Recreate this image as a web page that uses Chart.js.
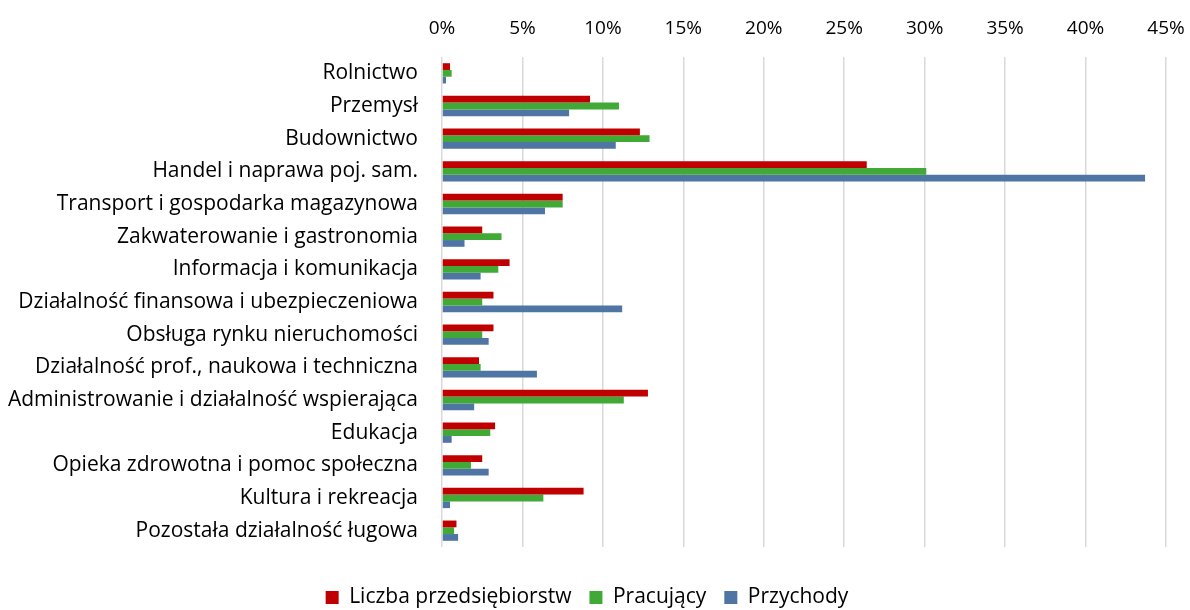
<!DOCTYPE html>
<html><head><meta charset="utf-8">
<script src="https://cdn.jsdelivr.net/npm/chart.js@4"></script>
<style>html,body{margin:0;padding:0;background:#fff}#w{width:1190px;height:610px}</style>
</head><body><div id="w"><canvas id="c"></canvas></div>
<script>
const categories = ["Rolnictwo","Przemysł","Budownictwo","Handel i naprawa poj. sam.","Transport i gospodarka magazynowa","Zakwaterowanie i gastronomia","Informacja i komunikacja","Działalność finansowa i ubezpieczeniowa","Obsługa rynku nieruchomości","Działalność prof., naukowa i techniczna","Administrowanie i działalność wspierająca","Edukacja","Opieka zdrowotna i pomoc społeczna","Kultura i rekreacja","Pozostała działalność ługowa"];
const seriesNames = ["Liczba przedsiębiorstw","Pracujący","Przychody"];
const liczba = [0.5,9.2,12.3,26.4,7.5,2.5,4.2,3.2,3.2,2.3,12.8,3.3,2.5,8.8,0.9];
const pracujacy = [0.6,11.0,12.9,30.1,7.5,3.7,3.5,2.5,2.5,2.4,11.3,3.0,1.8,6.3,0.75];
const przychody = [0.25,7.9,10.8,43.7,6.4,1.4,2.4,11.2,2.9,5.9,2.0,0.6,2.9,0.5,1.0];
const tickValues = [0,5,10,15,20,25,30,35,40,45];
const colors = ["#C00000","#41A936","#4F75A5"];
const FONT = "Open Sans";
const legendTweak = {
  id: 'legendTweak',
  afterInit(chart) {
    const lg = chart.legend;
    if (!lg) return;
    const fit = lg.fit.bind(lg);
    lg.fit = function() { fit(); this.height = 63; };
    const draw = lg.draw.bind(lg);
    lg.draw = function() { const ctx = this.ctx; ctx.save(); ctx.translate(0, 22); draw(); ctx.restore(); };
  }
};
new Chart(document.getElementById('c'), {
  type: 'bar',
  data: {
    labels: categories,
    datasets: [liczba, pracujacy, przychody].map((d,i)=>({
      label: seriesNames[i], data: d, backgroundColor: colors[i],
      categoryPercentage: 0.62, barPercentage: 1.0, borderWidth: 0
    }))
  },
  plugins: [legendTweak],
  options: {
    indexAxis: 'y', responsive: true, maintainAspectRatio: false, animation: false,
    layout: {padding: {left: 8, right: 24, top: 10, bottom: 0}},
    plugins: {
      legend: {position: 'bottom', labels: {font: {family: FONT, size: 21}, color: '#000', boxWidth: 13, boxHeight: 13, padding: 18}},
      tooltip: {enabled: false}
    },
    scales: {
      x: {
        position: 'top', min: 0, max: 45,
        afterBuildTicks: s => { s.ticks = tickValues.map(v=>({value:v})); },
        afterFit: s => { s.height = 47; s.paddingLeft = 0; s.paddingRight = 0; },
        ticks: {callback: v => v + '%', font: {family: FONT, size: 19}, color: '#000', padding: 17, maxRotation: 0},
        grid: {color: '#d9d9d9', lineWidth: 1.5, drawTicks: false},
        border: {display: false}
      },
      y: {
        afterFit: s => { s.width = 434; },
        ticks: {font: {family: FONT, size: 21}, color: '#000', padding: 24, autoSkip: false},
        grid: {display: false, drawTicks: false},
        border: {display: false}
      }
    }
  }
});
</script></body></html>
